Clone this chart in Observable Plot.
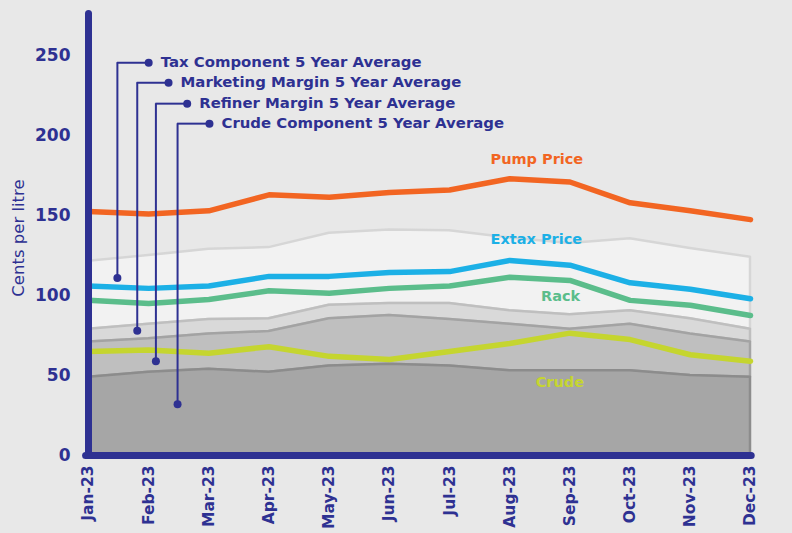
<!DOCTYPE html>
<html>
<head>
<meta charset="utf-8">
<script src="https://cdn.jsdelivr.net/npm/d3@7"></script>
<script src="https://cdn.jsdelivr.net/npm/@observablehq/plot@0.6"></script>
<style>
  html, body { margin: 0; padding: 0; background: #e8e8e8; }
  #chart { width: 792px; height: 533px; }
  svg { font-family: "DejaVu Sans", sans-serif; }
</style>
</head>
<body>
<div id="chart"></div>
<script>
// Months (x categories)
const months = ["Jan-23","Feb-23","Mar-23","Apr-23","May-23","Jun-23","Jul-23","Aug-23","Sep-23","Oct-23","Nov-23","Dec-23"];

// 5-year average components (cents per litre), stacked
const crudeAvg     = [49, 52, 54, 52, 56, 57, 56, 53, 53, 53, 50, 49];
const refinerAvg   = [22, 21, 22, 25.5, 29.5, 30.5, 29, 29, 26, 29, 26, 22];
const marketingAvg = [8, 9, 9, 8, 8.5, 7.5, 10, 8.5, 9, 8.5, 9.5, 8];
const taxAvg       = [42.5, 43, 44, 44.5, 45, 46, 45.5, 45.5, 44.5, 45, 44, 45];

// 2023 price lines
const pumpPrice  = [152.5, 151, 153, 163, 161.5, 164.5, 166, 173, 171, 158, 153, 147.5];
const extaxPrice = [106, 104.5, 106, 112, 112, 114.5, 115, 122, 119, 108, 104, 98];
const rackPrice  = [97, 95, 97.5, 103, 101.5, 104.5, 106, 111.5, 109.5, 97, 94, 87.5];
const crudePrice = [65, 66, 64, 68, 62, 60, 65, 70, 76.5, 72.5, 63, 59];

// Series labels
const lineLabels = [
  {text: "Pump Price",  x: 6.68, y: 185,  color: "#f26522"},
  {text: "Extax Price", x: 6.68, y: 135,  color: "#1cb0e6"},
  {text: "Rack",        x: 7.52, y: 99.5, color: "#5bbd8b"},
  {text: "Crude",       x: 7.43, y: 45.5, color: "#c5d52f"}
];

// Leader-callout legend (positions in month index / cents)
const callouts = [
  {text: "Tax Component 5 Year Average",       x0: 0.48, x1: 1.00, yTop: 245.6, yEnd: 111},
  {text: "Marketing Margin 5 Year Average",    x0: 0.81, x1: 1.33, yTop: 233.1, yEnd: 78},
  {text: "Refiner Margin 5 Year Average",      x0: 1.12, x1: 1.64, yTop: 220,   yEnd: 59},
  {text: "Crude Component 5 Year Average",     x0: 1.48, x1: 2.01, yTop: 207.5, yEnd: 32}
];

const layers = [
  {name: "Crude Component", vals: crudeAvg,     fill: "#a6a6a6", stroke: "#8c8c8c"},
  {name: "Refiner Margin",  vals: refinerAvg,   fill: "#bfbfbf", stroke: "#a3a3a3"},
  {name: "Marketing Margin",vals: marketingAvg, fill: "#d9d9d9", stroke: "#bfbfbf"},
  {name: "Tax Component",   vals: taxAvg,       fill: "#f2f2f2", stroke: "#d6d6d6"}
];

// build stacked table
const stackRows = [];
months.forEach((m, i) => {
  let base = 0;
  layers.forEach((L, k) => {
    stackRows.push({i, layer: k, y1: base, y2: base + L.vals[i]});
    base += L.vals[i];
  });
});

const navy = "#2e3192";
const idx = months.map((_, i) => i);

const lineMark = (vals, color) => Plot.lineY(idx, {x: i => i, y: i => vals[i], stroke: color, strokeWidth: 5.5, strokeLinejoin: "round"});

const marks = [];
// areas drawn top layer first so lower outlines remain visible
for (let k = layers.length - 1; k >= 0; k--) {
  const L = layers[k];
  marks.push(Plot.areaY(stackRows.filter(r => r.layer === k), {x: "i", y1: "y1", y2: "y2", fill: L.fill, stroke: L.stroke, strokeWidth: 2.5}));
}
marks.push(
  lineMark(crudePrice, "#c5d52f"),
  lineMark(rackPrice, "#5bbd8b"),
  lineMark(extaxPrice, "#1cb0e6"),
  lineMark(pumpPrice, "#f26522"),
  Plot.text(lineLabels, {x: "x", y: "y", text: "text", fill: "color", textAnchor: "start", fontSize: 14.5, fontWeight: 600}),
  // callouts
  Plot.ruleX(callouts, {x: "x0", y1: "yEnd", y2: "yTop", stroke: navy, strokeWidth: 2}),
  Plot.ruleY(callouts, {y: "yTop", x1: "x0", x2: "x1", stroke: navy, strokeWidth: 2}),
  Plot.dot(callouts, {x: "x1", y: "yTop", r: 4, fill: navy}),
  Plot.dot(callouts, {x: "x0", y: "yEnd", r: 4, fill: navy}),
  Plot.text(callouts, {x: "x1", y: "yTop", text: "text", fill: navy, textAnchor: "start", dx: 12, fontSize: 14.9, fontWeight: 600}),
  // axis lines
  Plot.ruleX([0], {y1: 0, y2: 276, stroke: navy, strokeWidth: 7, strokeLinecap: "round"}),
  Plot.ruleY([0], {x1: -0.04, x2: 11.02, stroke: navy, strokeWidth: 7, strokeLinecap: "round"})
);

const chart = Plot.plot({
  width: 792,
  height: 533,
  marginLeft: 88,
  marginRight: 42,
  marginTop: 12,
  marginBottom: 78,
  style: {background: "#e8e8e8", color: navy, fontFamily: "DejaVu Sans, sans-serif"},
  x: {
    type: "linear", domain: [0, 11],
    ticks: idx, tickFormat: i => months[i],
    tickRotate: -90, tickSize: 0, tickPadding: 10,
    label: null
  },
  y: {
    domain: [0, 277],
    ticks: [0, 50, 100, 150, 200, 250],
    tickSize: 0, tickPadding: 18,
    label: null
  },
  marks: [
    ...marks,
    Plot.axisX({ticks: idx, tickFormat: i => months[i], tickRotate: -90, tickSize: 0, tickPadding: 10, fontSize: 15.5, fontWeight: 600, fill: navy, label: null}),
    Plot.axisY({ticks: [0, 50, 100, 150, 200, 250], tickSize: 0, tickPadding: 18, fontSize: 17, fontWeight: 600, fill: navy, label: null}),
    Plot.text(["Cents per litre"], {frameAnchor: "left", textAnchor: "middle", dx: -70, dy: 4, rotate: -90, fontSize: 16.5, fontWeight: "normal", fill: navy})
  ]
});
document.getElementById("chart").appendChild(chart);
</script>
</body>
</html>
